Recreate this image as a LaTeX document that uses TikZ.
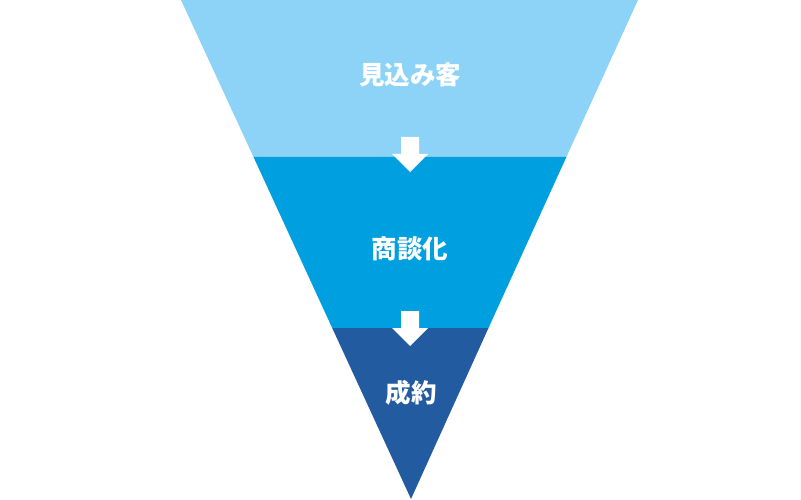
\documentclass[tikz,border=0pt]{standalone}
\usepackage{fontspec}
\newfontfamily\cjk{Noto Sans CJK JP}
\definecolor{bandA}{HTML}{8DD3F7}
\definecolor{bandB}{HTML}{009FE0}
\definecolor{bandC}{HTML}{235BA0}
\begin{document}
\begin{tikzpicture}[x=1pt,y=-1pt,
  label/.style={text=white,font=\cjk\bfseries\fontsize{25.5}{28}\selectfont,inner sep=0pt},
  downarrow/.style={fill=white,draw=none}]
\useasboundingbox (0,0) rectangle (801,500);
% bands
\fill[bandA] (181,0) -- (638,0) -- (566.4,157) -- (253.5,157) -- cycle;
\fill[bandB] (253.5,157) -- (566.4,157) -- (488.5,328) -- (332.2,328) -- cycle;
\fill[bandC] (332.2,328) -- (488.5,328) -- (411,499) -- cycle;
% arrows
\fill[downarrow] (401,137) -- (419,137) -- (419,154) -- (428,154) -- (410,172) -- (392,154) -- (401,154) -- cycle;
\fill[downarrow] (401,311) -- (419,311) -- (419,328) -- (428,328) -- (410,346) -- (392,328) -- (401,328) -- cycle;
% labels
\node[label] (t1) at (410,75) {見込み客};
\node[label] (t2) at (410,249) {商談化};
\node[label] (t3) at (411,393) {成約};
\end{tikzpicture}
\end{document}
